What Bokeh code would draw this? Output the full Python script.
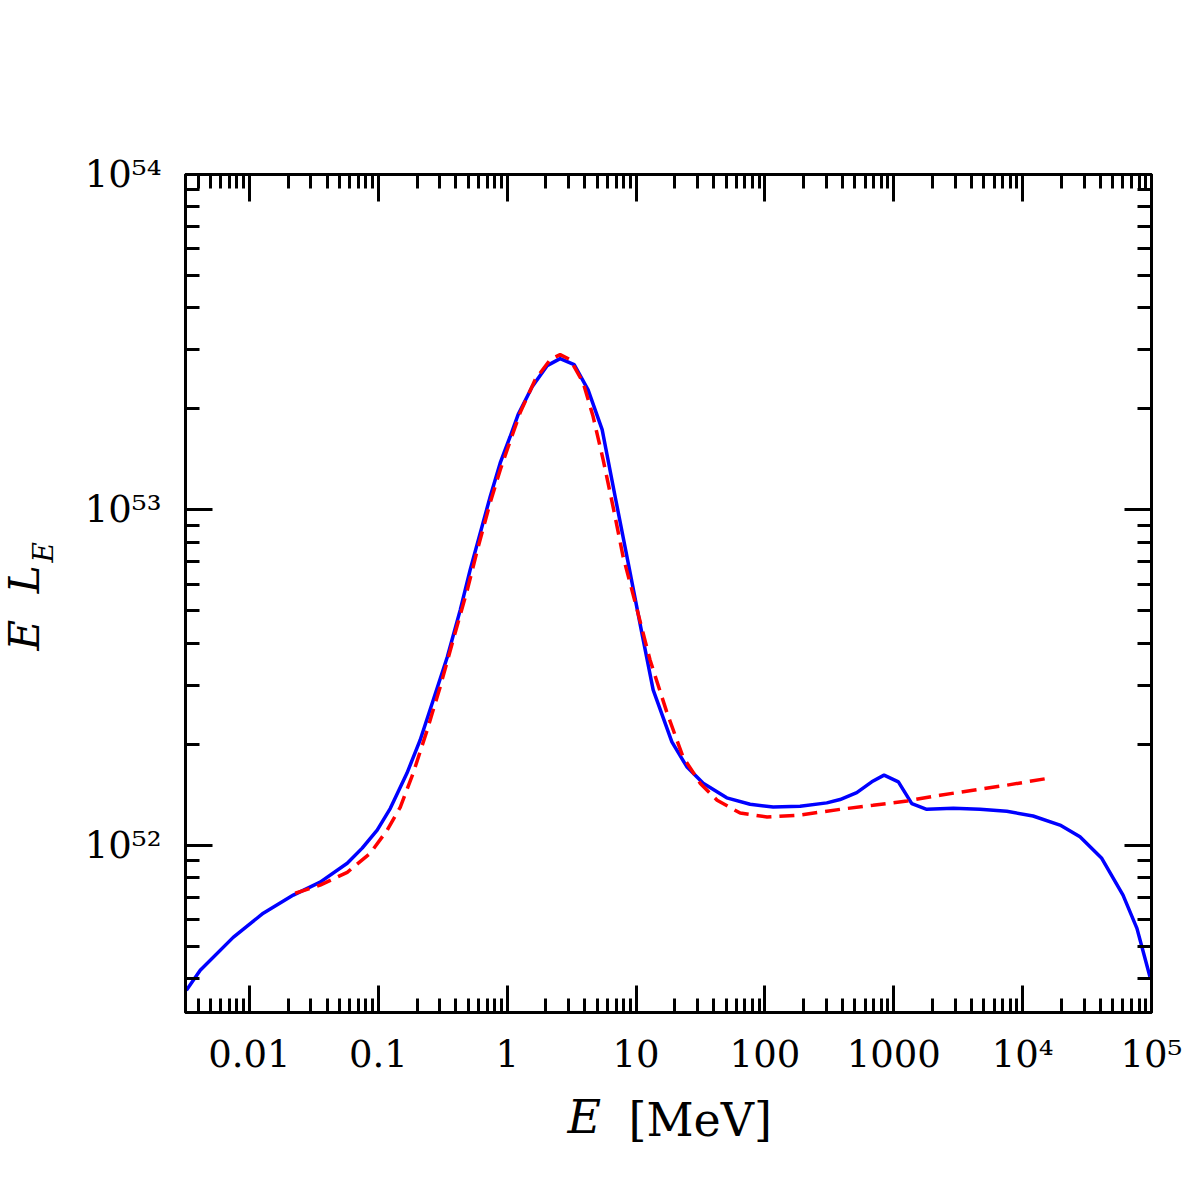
import numpy as np
from bokeh.plotting import figure
from bokeh.models import FixedTicker, LogAxis, Label, Range1d, CustomLabelingPolicy
from bokeh.embed import file_html
from bokeh.resources import INLINE

# ---- data (E in MeV, E*L_E in units of 1e52) ----
E_blue = [0.00324, 0.00415, 0.00748, 0.0128, 0.0219, 0.0354, 0.0574, 0.0750, 0.0980,
          0.124, 0.167, 0.211, 0.267, 0.343, 0.432, 0.516, 0.738, 0.883, 1.054, 1.216,
          1.563, 2.042, 2.576, 3.311, 4.246, 5.458, 6.887, 8.690, 11.09, 13.58, 18.97,
          24.77, 33.19, 50.58, 76.74, 115.9, 187.5, 302.0, 383.0, 516.0, 675.0, 841.0,
          1086.0, 1380.0, 1803.0, 2897.0, 4667.0, 7534.0, 12050.0, 19500.0, 27860.0,
          41110.0, 60120.0, 77090.0, 97270.0]
L_blue = [0.369, 0.424, 0.531, 0.627, 0.710, 0.776, 0.883, 0.980, 1.109,
          1.288, 1.641, 2.056, 2.710, 3.639, 5.023, 6.622, 10.94, 13.80, 16.52, 19.23,
          23.28, 26.92, 28.25, 27.10, 22.80, 17.34, 10.94, 6.950, 4.295, 2.904, 2.032,
          1.714, 1.531, 1.384, 1.324, 1.300, 1.306, 1.337, 1.368, 1.435, 1.545, 1.618,
          1.545, 1.330, 1.279, 1.288, 1.279, 1.262, 1.222, 1.148, 1.059,
          0.914, 0.710, 0.565, 0.405]

E_red = [0.02265, 0.0354, 0.0574, 0.0865, 0.1172, 0.1479, 0.1866, 0.2393, 0.302,
         0.381, 0.490, 0.596, 0.738, 0.883, 1.019, 1.262, 1.648, 2.158, 2.576, 3.083,
         3.890, 4.645, 5.559, 6.637, 7.943, 10.21, 12.85, 17.42, 23.17, 31.41, 42.56,
         64.27, 104.0, 187.5, 383.0, 690.0, 1268.0, 2286.0, 4121.0, 7568.0, 15450.0]
L_red = [0.719, 0.760, 0.830, 0.946, 1.109, 1.297, 1.641, 2.203, 2.965,
         4.093, 5.768, 7.762, 10.50, 13.15, 15.42, 19.50, 24.43, 28.05, 29.04, 28.05,
         23.93, 18.97, 14.09, 10.21, 7.244, 5.023, 3.565, 2.477, 1.832, 1.531, 1.361,
         1.247, 1.213, 1.230, 1.279, 1.315, 1.355, 1.409, 1.459, 1.510, 1.581]
L_UNIT = 1e52

x_ticks = [0.01, 0.1, 1.0, 10.0, 100.0, 1000.0, 1e4, 1e5]
x_tick_labels = ["0.01", "0.1", "1", "10", "100", "1000", "10\u2074", "10\u2075"]
y_ticks = [1e52, 1e53, 1e54]
y_tick_labels = ["10\u2075\u00b2", "10\u2075\u00b3", "10\u2075\u2074"]

x_min, x_max = 0.00319, 1e5
y_min, y_max = 3.17e51, 1e54

FONT = "DejaVu Serif"

x_minor = [k * 10.0 ** d for d in range(-3, 5) for k in range(2, 10)
           if x_min <= k * 10.0 ** d <= x_max]
y_minor = [k * 10.0 ** d for d in range(51, 54) for k in range(2, 10)
           if y_min <= k * 10.0 ** d <= y_max]

p = figure(width=1196, height=1196, x_axis_type="log", y_axis_type="log",
           x_range=Range1d(x_min, x_max), y_range=Range1d(y_min, y_max),
           output_backend="svg", toolbar_location=None,
           min_border_left=185, min_border_right=45,
           min_border_top=174, min_border_bottom=184)
p.title.visible = False
p.grid.visible = False
p.background_fill_color = "white"
p.border_fill_color = "white"
p.outline_line_color = "black"
p.outline_line_width = 3

p.line(E_blue, [v * L_UNIT for v in L_blue], line_color="#0000ff", line_width=3.5)
p.line(E_red, [v * L_UNIT for v in L_red], line_color="#ff0000", line_width=3.5,
       line_dash="15 8")

bottom = p.below[0]
left = p.left[0]
top = LogAxis()
right = LogAxis()
p.add_layout(top, "above")
p.add_layout(right, "right")


def style(ax, ticks, minor, labels):
    ax.ticker = FixedTicker(ticks=ticks, minor_ticks=minor)
    ax.axis_line_width = 3
    ax.axis_line_color = "black"
    ax.major_tick_line_width = 3
    ax.minor_tick_line_width = 3
    ax.major_tick_in = 27
    ax.major_tick_out = 0
    ax.minor_tick_in = 14
    ax.minor_tick_out = 0
    if labels is None:
        ax.major_label_text_font_size = "1px"
        ax.major_label_standoff = 0
        ax.major_label_policy = CustomLabelingPolicy(
            code="return new indices.constructor(indices.size);")
    else:
        ax.major_label_overrides = {t: s for t, s in zip(ticks, labels)}
        ax.major_label_text_font = FONT
        ax.major_label_text_font_size = "37px"
        ax.major_label_text_color = "black"


style(bottom, x_ticks, x_minor, x_tick_labels)
bottom.major_label_standoff = 20
style(top, x_ticks, x_minor, None)
style(left, y_ticks, y_minor, y_tick_labels)
left.major_label_standoff = 24
style(right, y_ticks, y_minor, None)

# axis titles: side-panel labels, positioned relative to their panel slot
lab_kw = dict(x_units="screen", y_units="screen", text_font=FONT, text_color="black",
              text_baseline="alphabetic", text_align="left")
p.add_layout(Label(x=382, y=16, text="E", text_font_size="46px",
                   text_font_style="italic", **lab_kw), "below")
p.add_layout(Label(x=443, y=67, text="[MeV]", text_font_size="46px", **lab_kw), "below")

p.add_layout(Label(x=-8, y=362, text="E\u00a0\u00a0L", angle=np.pi / 2,
                   text_font_size="42px", text_font_style="italic", **lab_kw), "left")
p.add_layout(Label(x=-142, y=-393, text="E", angle=np.pi / 2, text_font_size="28px",
                   text_font_style="italic", **lab_kw), "above")

open("out.html", "w").write(file_html(p, INLINE))
